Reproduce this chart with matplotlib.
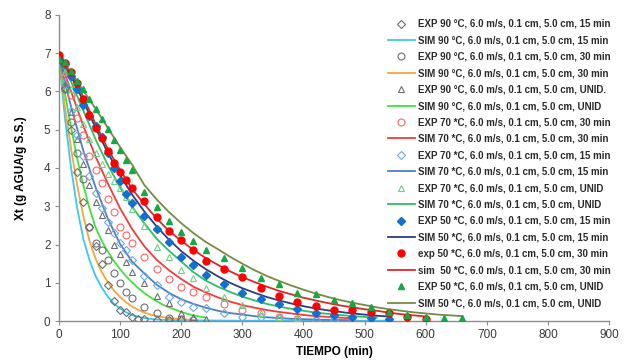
import matplotlib
matplotlib.use("Agg")
import matplotlib.pyplot as plt

# ---- experimental / simulated drying curves (read off the original chart) ----
# 90 C, 15 min
t_exp90_15 = [0, 10, 20, 30, 40, 50, 60, 70, 80, 90, 100, 110, 120, 130, 140, 160, 180, 200]
x_exp90_15 = [6.85, 6.1, 5.0, 3.9, 3.1, 2.45, 1.95, 1.5, 0.95, 0.52, 0.3, 0.24, 0.1, 0.06, 0.05, 0.03, 0.02, 0.02]
t_sim90_15 = [0, 10, 20, 30, 40, 50, 60, 70, 80, 90, 100, 110, 120, 130, 140, 160, 200, 300, 400, 540]
x_sim90_15 = [6.9, 5.3, 4.0, 2.95, 2.15, 1.6, 1.18, 0.88, 0.64, 0.46, 0.33, 0.23, 0.16, 0.11, 0.08, 0.04, 0.02, 0.01, 0.01, 0.01]

# 90 C, 30 min
t_exp90_30 = [0, 10, 20, 30, 40, 50, 60, 70, 80, 90, 100, 110, 120, 140, 160, 180, 200, 220]
x_exp90_30 = [6.85, 6.05, 5.2, 4.4, 3.7, 2.45, 2.04, 1.86, 1.6, 1.26, 0.99, 0.76, 0.6, 0.37, 0.21, 0.08, 0.05, 0.03]
t_sim90_30 = [0, 10, 20, 30, 40, 50, 60, 70, 80, 90, 100, 110, 120, 130, 140, 150, 160, 180, 200, 220]
x_sim90_30 = [6.9, 5.6, 4.5, 3.55, 2.75, 2.1, 1.63, 1.28, 1.02, 0.8, 0.63, 0.49, 0.38, 0.29, 0.22, 0.17, 0.13, 0.08, 0.05, 0.03]

# 90 C, continuous
t_exp90_u = [0, 10, 20, 30, 40, 50, 60, 70, 80, 90, 100, 110, 120, 140, 160, 180, 200, 220, 240]
x_exp90_u = [6.85, 6.2, 5.45, 4.75, 4.1, 3.55, 3.1, 2.78, 2.38, 1.99, 1.75, 1.55, 1.28, 0.99, 0.65, 0.47, 0.21, 0.1, 0.05]
t_sim90_u = [0, 10, 20, 30, 40, 50, 60, 70, 80, 90, 100, 110, 120, 130, 140, 150, 160, 170, 180, 190, 200, 210, 220, 230, 240]
x_sim90_u = [6.9, 5.95, 5.05, 4.25, 3.55, 2.95, 2.45, 2.1, 1.82, 1.57, 1.36, 1.17, 1.01, 0.86, 0.73, 0.62, 0.52, 0.43, 0.36, 0.3, 0.24, 0.19, 0.15, 0.12, 0.09]

# 70 C, 30 min
t_exp70_30 = [0, 10, 20, 30, 40, 50, 60, 70, 80, 90, 100, 110, 120, 140, 160, 180, 200, 220, 240, 270, 300, 330, 360, 390, 420, 450, 480]
x_exp70_30 = [6.9, 6.4, 5.9, 5.3, 4.85, 4.3, 3.95, 3.6, 3.2, 2.85, 2.46, 2.25, 2.04, 1.68, 1.36, 1.1, 0.89, 0.76, 0.63, 0.44, 0.29, 0.21, 0.1, 0.06, 0.04, 0.03, 0.02]
t_sim70_30 = [0, 20, 40, 60, 80, 100, 120, 140, 160, 180, 200, 220, 240, 260, 280, 300, 320, 340, 360, 380, 400, 420, 440, 460, 480]
x_sim70_30 = [6.9, 6.0, 5.1, 4.3, 3.6, 2.95, 2.4, 1.95, 1.6, 1.33, 1.1, 0.9, 0.75, 0.62, 0.51, 0.42, 0.35, 0.29, 0.24, 0.2, 0.16, 0.13, 0.11, 0.09, 0.07]

# 70 C, 15 min
t_exp70_15 = [0, 10, 20, 30, 40, 50, 60, 70, 80, 90, 100, 110, 120, 140, 160, 180, 200, 220, 240, 270, 300, 330, 360, 390, 420, 450]
x_exp70_15 = [6.85, 6.2, 5.5, 4.85, 4.3, 3.8, 3.35, 2.95, 2.6, 2.3, 2.05, 1.86, 1.6, 1.18, 0.94, 0.63, 0.5, 0.37, 0.34, 0.21, 0.12, 0.1, 0.07, 0.03, 0.03, 0.03]
t_sim70_15 = [0, 20, 40, 60, 80, 100, 120, 140, 160, 180, 200, 220, 240, 260, 280, 300, 320, 340, 360, 380, 400, 420, 440, 460, 480]
x_sim70_15 = [6.9, 5.6, 4.45, 3.5, 2.68, 2.02, 1.55, 1.24, 0.95, 0.74, 0.57, 0.45, 0.35, 0.27, 0.21, 0.17, 0.13, 0.1, 0.08, 0.06, 0.05, 0.04, 0.03, 0.03, 0.02]

# 70 C, continuous
t_exp70_u = [0, 10, 20, 30, 40, 50, 60, 70, 80, 90, 100, 110, 120, 140, 160, 180, 200, 220, 240, 270, 300, 330, 360, 390]
x_exp70_u = [6.85, 6.5, 6.05, 5.6, 5.15, 4.75, 4.4, 4.1, 3.85, 3.65, 3.48, 3.25, 2.93, 2.49, 1.94, 1.68, 1.34, 1.13, 0.87, 0.62, 0.42, 0.22, 0.12, 0.08]
t_sim70_u = [0, 20, 40, 60, 80, 100, 120, 140, 160, 180, 200, 220, 240, 260, 280, 300, 320, 340, 360, 380, 400, 420, 440, 460, 480, 500, 520]
x_sim70_u = [6.9, 6.25, 5.5, 4.75, 4.08, 3.5, 2.98, 2.55, 2.15, 1.84, 1.56, 1.28, 1.06, 0.9, 0.76, 0.64, 0.54, 0.45, 0.38, 0.32, 0.27, 0.22, 0.19, 0.16, 0.13, 0.11, 0.09]

# 50 C, 15 min
t_exp50_15 = [0, 10, 20, 30, 40, 50, 60, 70, 80, 90, 100, 110, 120, 140, 160, 180, 200, 220, 240, 270, 300, 330, 360, 390, 420, 450, 480, 510, 540]
x_exp50_15 = [6.85, 6.72, 6.4, 6.05, 5.65, 5.35, 5.1, 4.8, 4.4, 4.0, 3.65, 3.33, 3.09, 2.75, 2.41, 2.07, 1.68, 1.47, 1.2, 0.97, 0.73, 0.58, 0.45, 0.31, 0.21, 0.16, 0.11, 0.08, 0.05]
t_sim50_15 = [0, 20, 40, 60, 80, 100, 120, 140, 160, 180, 200, 220, 240, 260, 280, 300, 320, 340, 360, 380, 400, 420, 440, 460, 480, 500, 520, 540]
x_sim50_15 = [6.9, 6.4, 5.75, 5.05, 4.4, 3.82, 3.3, 2.86, 2.47, 2.13, 1.83, 1.58, 1.36, 1.17, 1.0, 0.86, 0.74, 0.63, 0.54, 0.46, 0.39, 0.33, 0.28, 0.24, 0.2, 0.17, 0.14, 0.12]

# 50 C, 30 min
t_exp50_30 = [0, 10, 20, 30, 40, 50, 60, 70, 80, 90, 100, 110, 120, 140, 160, 180, 200, 220, 240, 270, 300, 330, 360, 390, 420, 450, 480, 510, 540, 570, 600]
x_exp50_30 = [6.96, 6.75, 6.5, 6.23, 5.81, 5.39, 5.05, 4.79, 4.45, 4.14, 3.9, 3.69, 3.48, 3.14, 2.72, 2.36, 2.12, 1.86, 1.57, 1.36, 1.15, 0.86, 0.65, 0.5, 0.39, 0.29, 0.29, 0.24, 0.2, 0.1, 0.06]
t_sim50_30 = [0, 20, 40, 60, 80, 100, 120, 140, 160, 180, 200, 220, 240, 260, 280, 300, 320, 340, 360, 380, 400, 420, 440, 460, 480, 500, 520, 540, 560, 580, 600]
x_sim50_30 = [6.9, 6.5, 5.85, 5.15, 4.5, 3.95, 3.45, 3.05, 2.68, 2.36, 2.1, 1.86, 1.65, 1.47, 1.3, 1.15, 1.02, 0.9, 0.79, 0.7, 0.61, 0.54, 0.47, 0.41, 0.36, 0.31, 0.27, 0.22, 0.18, 0.15, 0.12]

# 50 C, continuous
t_exp50_u = [0, 10, 20, 30, 40, 50, 60, 70, 80, 90, 100, 110, 120, 140, 160, 180, 200, 220, 240, 270, 300, 330, 360, 390, 420, 450, 480, 510, 540, 570, 600, 630, 660]
x_exp50_u = [6.85, 6.76, 6.53, 6.26, 6.05, 5.79, 5.54, 5.29, 5.02, 4.74, 4.48, 4.21, 3.95, 3.38, 2.98, 2.62, 2.33, 2.09, 1.86, 1.65, 1.38, 1.13, 0.97, 0.73, 0.7, 0.55, 0.48, 0.36, 0.23, 0.17, 0.11, 0.07, 0.09]
t_sim50_u = [0, 20, 40, 60, 80, 100, 120, 140, 160, 180, 200, 220, 240, 260, 280, 300, 320, 340, 360, 380, 400, 420, 440, 460, 480, 500, 520, 540, 560, 580, 600, 620, 640, 660]
x_sim50_u = [6.9, 6.5, 6.02, 5.55, 5.05, 4.55, 4.08, 3.55, 3.18, 2.85, 2.56, 2.3, 2.07, 1.88, 1.68, 1.5, 1.33, 1.18, 1.05, 0.93, 0.82, 0.72, 0.63, 0.55, 0.48, 0.42, 0.36, 0.31, 0.27, 0.23, 0.2, 0.17, 0.15, 0.13]

x_ticks = [0, 100, 200, 300, 400, 500, 600, 700, 800, 900]
y_ticks = [0, 1, 2, 3, 4, 5, 6, 7, 8]

# legend order: (label, t, x, kind, color, marker, filled)
series = [
    ("EXP 90 °C, 6.0 m/s, 0.1 cm, 5.0 cm, 15 min", t_exp90_15, x_exp90_15, "exp", "#6e6e6e", "D", False),
    ("SIM 90 °C, 6.0 m/s, 0.1 cm, 5.0 cm, 15 min", t_sim90_15, x_sim90_15, "sim", "#3cc8f4", None, None),
    ("EXP 90 °C, 6.0 m/s, 0.1 cm, 5.0 cm, 30 min", t_exp90_30, x_exp90_30, "exp", "#6e6e6e", "o", False),
    ("SIM 90 °C, 6.0 m/s, 0.1 cm, 5.0 cm, 30 min", t_sim90_30, x_sim90_30, "sim", "#f8a63a", None, None),
    ("EXP 90 °C, 6.0 m/s, 0.1 cm, 5.0 cm, UNID.", t_exp90_u, x_exp90_u, "exp", "#6e6e6e", "^", False),
    ("SIM 90 °C, 6.0 m/s, 0.1 cm, 5.0 cm, UNID", t_sim90_u, x_sim90_u, "sim", "#3ee33e", None, None),
    ("EXP 70 *C, 6.0 m/s, 0.1 cm, 5.0 cm, 30 min", t_exp70_30, x_exp70_30, "exp", "#ff6464", "o", False),
    ("SIM 70 *C, 6.0 m/s, 0.1 cm, 5.0 cm, 30 min", t_sim70_30, x_sim70_30, "sim", "#f23c3c", None, None),
    ("EXP 70 *C, 6.0 m/s, 0.1 cm, 5.0 cm, 15 min", t_exp70_15, x_exp70_15, "exp", "#6fa8dc", "D", False),
    ("SIM 70 *C, 6.0 m/s, 0.1 cm, 5.0 cm, 15 min", t_sim70_15, x_sim70_15, "sim", "#4a80c4", None, None),
    ("EXP 70 *C, 6.0 m/s, 0.1 cm, 5.0 cm, UNID", t_exp70_u, x_exp70_u, "exp", "#6fcf8a", "^", False),
    ("SIM 70 *C, 6.0 m/s, 0.1 cm, 5.0 cm, UNID", t_sim70_u, x_sim70_u, "sim", "#2fbf5f", None, None),
    ("EXP 50 *C, 6.0 m/s, 0.1 cm, 5.0 cm, 15 min", t_exp50_15, x_exp50_15, "exp", "#1170d0", "D", True),
    ("SIM 50 *C, 6.0 m/s, 0.1 cm, 5.0 cm, 15 min", t_sim50_15, x_sim50_15, "sim", "#283f80", None, None),
    ("exp 50 *C, 6.0 m/s, 0.1 cm, 5.0 cm, 30 min", t_exp50_30, x_exp50_30, "exp", "#ff0000", "o", True),
    ("sim  50 *C, 6.0 m/s, 0.1 cm, 5.0 cm, 30 min", t_sim50_30, x_sim50_30, "sim", "#dc2828", None, None),
    ("EXP 50 *C, 6.0 m/s, 0.1 cm, 5.0 cm, UNID", t_exp50_u, x_exp50_u, "exp", "#14a844", "^", True),
    ("SIM 50 *C, 6.0 m/s, 0.1 cm, 5.0 cm, UNID", t_sim50_u, x_sim50_u, "sim", "#788a44", None, None),
]

plt.rcParams['font.family'] = ['Liberation Sans', 'DejaVu Sans']

fig = plt.figure(figsize=(6.26, 3.62), dpi=100)
ax = fig.add_axes([0.094, 0.113, 0.879, 0.846])

for label, t, x, kind, color, marker, filled in series:
    if kind == "sim":
        ax.plot(t, x, color=color, lw=1.3, label=label, zorder=2)
    else:
        ms = 5.0 if marker != "D" else 4.0
        if filled:
            ax.plot(t, x, ls="none", marker=marker, ms=ms, color=color,
                    mec=color, label=label, zorder=3)
        else:
            ax.plot(t, x, ls="none", marker=marker, ms=ms, mfc="none",
                    mec=color, mew=0.8, label=label, zorder=3)

ax.set_xlim(0, 900)
ax.set_ylim(0, 8)
ax.set_xticks(x_ticks)
ax.set_yticks(y_ticks)

# excel-like axes: only left and bottom
for side in ("top", "right"):
    ax.spines[side].set_visible(False)
for side in ("left", "bottom"):
    ax.spines[side].set_color("#8c8c8c")
    ax.spines[side].set_linewidth(1.0)
ax.tick_params(direction="out", length=3, color="#8c8c8c",
               labelsize=8.5, labelcolor="#3a3a3a", pad=3)

ax.set_xlabel("TIEMPO (min)", fontsize=8.5, fontweight="bold", labelpad=3)
ax.set_ylabel("Xt (g AGUA/g S.S.)", fontsize=8.5, fontweight="bold", labelpad=12)

leg = ax.legend(loc="upper left", bbox_to_anchor=(388 / 626, 1 - 19 / 362),
                bbox_transform=fig.transFigure, frameon=False,
                prop={"size": 7.05, "weight": "bold"},
                handlelength=2.75, handletextpad=0.3, labelspacing=0.655,
                borderpad=0, borderaxespad=0)
for txt in leg.get_texts():
    txt.set_color("#2a2a2a")

fig.savefig("out.png", dpi=100)
